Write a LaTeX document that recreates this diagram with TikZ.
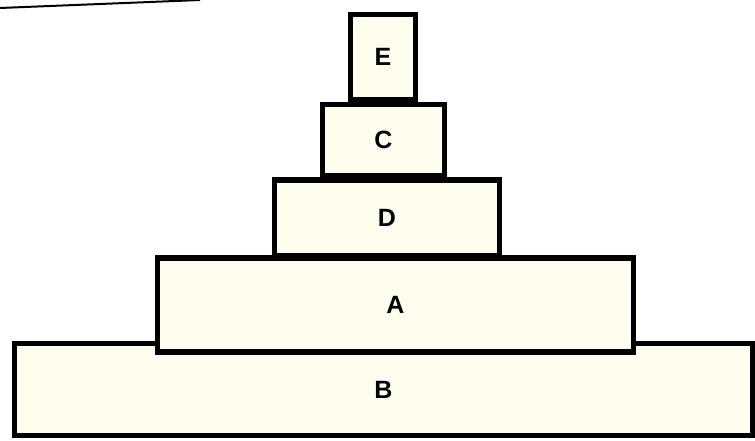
\documentclass[tikz,border=0pt]{standalone}
\usepackage{fontspec}
\setmainfont{Liberation Sans}
\definecolor{boxfill}{RGB}{255, 254, 238}
\usetikzlibrary{positioning}

\begin{document}
\begin{tikzpicture}[x=1pt, y=-1pt,
  block/.style={draw=black, fill=boxfill, line width=5.5pt, inner sep=0pt,
    font=\fontsize{25}{30}\selectfont\bfseries}]
  \useasboundingbox (0,0) rectangle (755,441);
  % paper edge
  \draw[line width=2pt] (0,8) -- (200,0);
  % stack, bottom first
  \node[block, minimum width=738pt, minimum height=92pt] (B) at (383.5,389.5) {B};
  \node[block, minimum width=476pt, minimum height=94pt] (A) at (395.5,305) {A};
  \node[block, minimum width=225pt, minimum height=76pt] (D) at (387,218) {D};
  \node[block, minimum width=122pt, minimum height=71pt] (C) at (383.5,140) {C};
  \node[block, minimum width=65pt, minimum height=85pt] (E) at (383,57) {E};
\end{tikzpicture}
\end{document}
